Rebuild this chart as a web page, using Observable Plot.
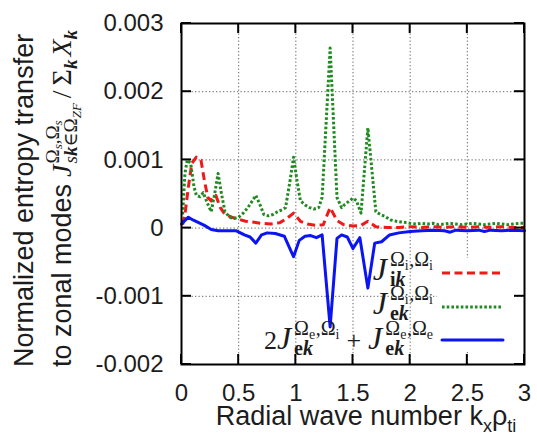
<!DOCTYPE html>
<html><head><meta charset="utf-8">
<script src="https://cdn.jsdelivr.net/npm/d3@7"></script>
<script src="https://cdn.jsdelivr.net/npm/@observablehq/plot@0.6"></script>
<style>html,body{margin:0;padding:0;background:#fff}svg{display:block}</style>
</head><body>
<div id="chart"></div>
<script>
// ---------- data ----------
const xTicks = [0, 0.5, 1, 1.5, 2, 2.5, 3];
const xTickLabels = ["0", "0.5", "1", "1.5", "2", "2.5", "3"];
const yTicks = [-0.002, -0.001, 0, 0.001, 0.002, 0.003];
const yTickLabels = ["-0.002", "-0.001", "0", "0.001", "0.002", "0.003"];

// J_ik^{Ωi,Ωi} (red dashed)
const kRed = [0.01, 0.03, 0.06, 0.09, 0.13, 0.17, 0.2, 0.23, 0.26, 0.3, 0.34, 0.38, 0.44, 0.5, 0.56, 0.62, 0.69, 0.78, 0.86, 0.92, 0.98, 1.04, 1.1, 1.18, 1.24, 1.3, 1.36, 1.42, 1.5, 1.57, 1.63, 1.7, 1.8, 1.9, 2.0, 2.1, 2.2, 2.3, 2.4, 2.5, 2.6, 2.7, 2.8, 2.9, 3.0];
const vRed = [0.00005, 0.0002, 0.0006, 0.00095, 0.00104, 0.001, 0.0007, 0.00045, 0.0004, 0.00048, 0.0003, 0.0002, 0.00016, 0.00013, 0.0001, 0.00009, 0.00007, 0.00006, 0.00008, 0.00014, 0.00022, 0.0001, 0.00006, 0.00004, 0.00005, 0.0003, 0.00011, 0.00005, 0.00003, 0.00004, 0.0001, 0.00002, 0.00001, 0.00001, 0.00002, 0.00001, 0.00002, 0.00001, 0.00002, 0.00001, 0.00002, 0.00001, 0.00002, 0.00001, 0.00001];

// J_ek^{Ωi,Ωi} (green dotted)
const kGreen = [0.01, 0.03, 0.05, 0.08, 0.11, 0.13, 0.16, 0.19, 0.23, 0.26, 0.29, 0.32, 0.35, 0.38, 0.42, 0.46, 0.5, 0.54, 0.58, 0.62, 0.65, 0.69, 0.72, 0.76, 0.8, 0.84, 0.88, 0.91, 0.95, 0.98, 1.01, 1.04, 1.08, 1.12, 1.16, 1.2, 1.23, 1.3, 1.36, 1.4, 1.43, 1.47, 1.5, 1.53, 1.57, 1.63, 1.7, 1.74, 1.78, 1.83, 1.88, 1.92, 1.97, 2.0, 2.05, 2.1, 2.15, 2.2, 2.25, 2.3, 2.35, 2.4, 2.45, 2.5, 2.55, 2.6, 2.65, 2.7, 2.75, 2.8, 2.85, 2.9, 2.95, 3.0];
const vGreen = [0.0002, 0.0008, 0.001, 0.00095, 0.0006, 0.00048, 0.00046, 0.00052, 0.00035, 0.00024, 0.0005, 0.0008, 0.0005, 0.00024, 0.00016, 0.00014, 0.00016, 0.00022, 0.0003, 0.0004, 0.00048, 0.00033, 0.0002, 0.00018, 0.0002, 0.00024, 0.00027, 0.0003, 0.0007, 0.00104, 0.0007, 0.0004, 0.00034, 0.0003, 0.00028, 0.0003, 0.00045, 0.00264, 0.00045, 0.0003, 0.00035, 0.0004, 0.00044, 0.0004, 0.00022, 0.00147, 0.00024, 0.0002, 0.00017, 0.00012, 0.0001, 0.00009, 0.00008, 0.00007, 0.00006, 0.00007, 0.00006, 0.00007, 0.00005, 0.00006, 0.00007, 0.00006, 0.00005, 0.00006, 0.00007, 0.00006, 0.00005, 0.00006, 0.00007, 0.00006, 0.00005, 0.00006, 0.00007, 0.00007];

// 2J_ek^{Ωe,Ωi} + J_ek^{Ωe,Ωe} (blue solid)
const kBlue = [0, 0.06, 0.1, 0.15, 0.2, 0.26, 0.32, 0.4, 0.48, 0.55, 0.6, 0.65, 0.7, 0.75, 0.82, 0.9, 0.98, 1.03, 1.08, 1.13, 1.18, 1.23, 1.3, 1.36, 1.4, 1.45, 1.5, 1.56, 1.63, 1.69, 1.75, 1.82, 1.9, 2.0, 2.1, 2.2, 2.3, 2.35, 2.4, 2.5, 2.6, 2.65, 2.7, 2.8, 2.9, 3.0];
const vBlue = [0.00006, 0.00016, 0.00012, 0.00008, 0.00004, -0.00002, -0.00004, -0.00004, -0.00004, -0.0001, -0.00013, -0.00022, -0.0001, -0.00007, -0.00008, -0.00012, -0.00042, -0.00018, -0.00012, -0.00011, -0.00014, -0.0001, -0.00145, -0.00015, -0.0001, -0.00013, -0.0003, -0.00014, -0.00088, -0.00022, -0.0002, -0.0001, -0.00007, -0.00005, -0.00004, -0.00003, -0.00004, -0.00006, -0.00003, -0.00004, -0.00003, -0.00005, -0.00003, -0.00004, -0.00003, -0.00004];

const colors = ["#f01818", "#1f8a1f", "#0b14f2"];

const rows = (ks, vs) => ks.map((k, i) => ({k, v: vs[i]}));
const SANS = "'Liberation Sans', Arial, Helvetica, sans-serif";
const SERIF = "'Liberation Serif', 'DejaVu Serif', serif";

const styles = [
  {stroke: colors[0], strokeWidth: 3, strokeDasharray: "8,4.5", strokeLinecap: "butt"},
  {stroke: colors[1], strokeWidth: 3, strokeDasharray: "2.6,2.1", strokeLinecap: "butt"},
  {stroke: colors[2], strokeWidth: 3, strokeLinecap: "round"}
];

const gridStyle = {stroke: "#666", strokeOpacity: 1, strokeWidth: 1, strokeDasharray: "1.3,2.2"};

const plot = Plot.plot({
  width: 537, height: 442,
  marginLeft: 181, marginRight: 13, marginTop: 23, marginBottom: 78,
  x: {domain: [0, 3]},
  y: {domain: [-0.002, 0.003]},
  style: {fontFamily: SANS, fontSize: "24px", color: "#1c1c1c", background: "white", overflow: "visible"},
  marks: [
    Plot.gridX({ticks: xTicks.slice(1, -1), ...gridStyle}),
    Plot.gridY({ticks: yTicks.slice(1, -1), ...gridStyle}),
    Plot.axisX({ticks: xTicks, tickSize: 0, tickPadding: 19, label: null, fontSize: 24,
      tickFormat: d => xTickLabels[xTicks.indexOf(d)]}),
    Plot.axisY({ticks: yTicks, tickSize: 0, tickPadding: 18, label: null, fontSize: 24,
      tickFormat: d => yTickLabels[yTicks.indexOf(d)]}),
    Plot.line(rows(kRed, vRed), {x: "k", y: "v", ...styles[0]}),
    Plot.line(rows(kGreen, vGreen), {x: "k", y: "v", ...styles[1]}),
    Plot.line(rows(kBlue, vBlue), {x: "k", y: "v", ...styles[2]}),
    Plot.frame({stroke: "black", strokeWidth: 2})
  ]
});
document.getElementById("chart").appendChild(plot);

const svg = d3.select(plot);
const sx = plot.scale("x"), sy = plot.scale("y");
const [x0, x1] = [sx.apply(0), sx.apply(3)];
const [yb, yt] = [sy.apply(-0.002), sy.apply(0.003)];

// ---------- inward mirrored ticks ----------
const tickG = svg.append("g").attr("stroke", "black").attr("stroke-width", 2);
const TL = 10;
for (const t of xTicks) {
  const px = sx.apply(t);
  tickG.append("line").attr("x1", px).attr("x2", px).attr("y1", yb).attr("y2", yb - TL);
  tickG.append("line").attr("x1", px).attr("x2", px).attr("y1", yt).attr("y2", yt + TL);
}
for (const t of yTicks) {
  const py = sy.apply(t);
  tickG.append("line").attr("y1", py).attr("y2", py).attr("x1", x0).attr("x2", x0 + TL);
  tickG.append("line").attr("y1", py).attr("y2", py).attr("x1", x1).attr("x2", x1 - TL);
}

// ---------- math-ish text layout helper ----------
function layoutRuns(parent, runs, color) {
  let x = 0, markX = 0, supEnd = 0;
  for (const r of runs) {
    if (r.mark) { markX = x; continue; }
    if (r.reset) { supEnd = x; x = markX; continue; }
    if (r.merge) { x = Math.max(x, supEnd); continue; }
    x += r.pre || 0;
    const t = parent.append("text")
      .attr("x", x).attr("y", r.dy || 0)
      .attr("text-anchor", "start")
      .attr("font-family", r.f === "s" ? SANS : SERIF)
      .attr("font-size", r.sz)
      .attr("fill", color)
      .text(r.t);
    if (r.it) t.attr("font-style", "italic");
    if (r.b) t.attr("font-weight", "bold");
    x += t.node().getComputedTextLength() + (r.sp || 0);
  }
  return x;
}
function placeRuns(runs, {x, y, anchor = "start", rotate = 0, color = "#1c1c1c"}) {
  const outer = svg.append("g").attr("text-anchor", "start")
    .attr("transform", `translate(${x},${y}) rotate(${rotate})`);
  const inner = outer.append("g");
  const w = layoutRuns(inner, runs, color);
  const off = anchor === "end" ? -w : anchor === "middle" ? -w / 2 : 0;
  inner.attr("transform", `translate(${off},0)`);
  return w;
}

// ---------- axis titles ----------
placeRuns([
  {t: "Radial wave number k", f: "s", sz: 27},
  {t: "x", f: "s", sz: 18, dy: 7},
  {t: "ρ", f: "s", sz: 27},
  {t: "ti", f: "s", sz: 18, dy: 7}
], {x: 366, y: 425, anchor: "middle"});

placeRuns([{t: "Normalized entropy transfer", f: "s", sz: 27}],
  {x: 33, y: 367, rotate: -90});

placeRuns([
  {t: "to zonal modes", f: "s", sz: 27, sp: 7},
  {t: "J", it: 1, sz: 28, sp: 1},
  {mark: 1},
  {t: "Ω", sz: 19, dy: -12}, {t: "s", it: 1, sz: 13, dy: -9},
  {t: ",", sz: 19, dy: -12}, {t: "Ω", sz: 19, dy: -12}, {t: "s", it: 1, sz: 13, dy: -9},
  {reset: 1},
  {t: "s", it: 1, sz: 19, dy: 6}, {t: "k", it: 1, b: 1, sz: 19, dy: 6},
  {t: "∈", sz: 19, dy: 6}, {t: "Ω", sz: 19, dy: 6}, {t: "ZF", it: 1, sz: 13, dy: 10},
  {merge: 1},
  {t: "/", sz: 28, pre: 5, sp: 5},
  {t: "Σ", sz: 28}, {t: "k", it: 1, b: 1, sz: 19, dy: 6, sp: 3},
  {t: "X", it: 1, sz: 28}, {t: "k", it: 1, b: 1, sz: 19, dy: 6}
], {x: 71, y: 367, rotate: -90});

// ---------- legend ----------
const legX1 = 442, legX2 = 503, legTextEnd = 433;
svg.insert("rect", "g[aria-label='line']")
  .attr("x", 437).attr("y", 258).attr("width", 77).attr("height", 94).attr("fill", "white");
const legY = [273, 307, 340];
legY.forEach((y, i) => {
  const st = styles[i];
  svg.append("line").attr("x1", legX1).attr("x2", legX2).attr("y1", y).attr("y2", y)
    .attr("stroke", st.stroke).attr("stroke-width", st.strokeWidth)
    .attr("stroke-dasharray", st.strokeDasharray || null)
    .attr("stroke-linecap", st.strokeLinecap);
});
const sup = (a, b) => [
  {t: "Ω", sz: 20, dy: -14}, {t: a, sz: 14, dy: -10, sp: 0.5},
  {t: ",", sz: 20, dy: -14}, {t: "Ω", sz: 20, dy: -14}, {t: b, sz: 14, dy: -10}
];
const sub = (s) => [
  {t: s, b: 1, sz: 20, dy: 6}, {t: "k", it: 1, b: 1, sz: 20, dy: 6}
];
const Jterm = (a, b, s) => [{t: "J", it: 1, sz: 32, sp: 3}, {mark: 1}, ...sup(a, b), {reset: 1}, ...sub(s), {merge: 1}];
placeRuns(Jterm("i", "i", "i"), {x: legTextEnd, y: 280, anchor: "end"});
placeRuns(Jterm("i", "i", "e"), {x: legTextEnd, y: 314, anchor: "end"});
placeRuns([
  {t: "2", sz: 26}, ...Jterm("e", "i", "e"),
  {t: "+", sz: 26, pre: 7, sp: 7},
  ...Jterm("e", "e", "e")
], {x: legTextEnd, y: 349, anchor: "end"});
</script>
</body></html>
